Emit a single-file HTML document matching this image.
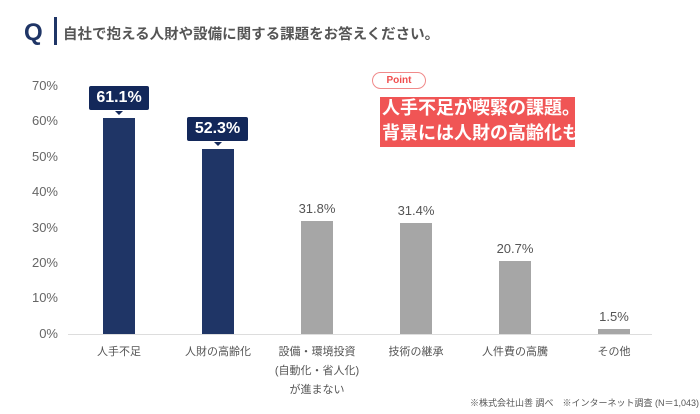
<!DOCTYPE html>
<html><head><meta charset="utf-8"><style>
body{margin:0;width:700px;height:414px;background:#fff;position:relative;overflow:hidden;font-family:"Liberation Sans","Noto Sans CJK JP",sans-serif}
.a{position:absolute}
.yl{position:absolute;left:20px;width:38px;text-align:right;font-size:13px;color:#666}
.bar{position:absolute;width:32px}
.xl{position:absolute;width:120px;text-align:center;font-size:11px;color:#555;line-height:19px}
.vl{position:absolute;width:60px;text-align:center;font-size:13px;color:#555}
.tag{position:absolute;background:#13285a;color:#fff;font-weight:bold;font-size:16px;text-align:center;height:24px;line-height:24px;border-radius:2px}
.tag:after{content:"";position:absolute;left:50%;bottom:-5px;margin-left:-4px;border:4px solid transparent;border-top:4px solid #13285a;border-bottom:0}
</style></head><body>
<div class="a" style="left:24px;top:19px;font-size:24px;font-weight:bold;color:#1f3566">Q</div>
<div class="a" style="left:54px;top:17px;width:3px;height:28px;background:#1f3566"></div>
<div class="a" style="left:63px;top:23px;font-size:14.5px;font-weight:bold;color:#555">自社で抱える人財や設備に関する課題をお答えください。</div>

<div class="yl" style="top:78px">70%</div>
<div class="yl" style="top:113px">60%</div>
<div class="yl" style="top:149px">50%</div>
<div class="yl" style="top:184px">40%</div>
<div class="yl" style="top:220px">30%</div>
<div class="yl" style="top:255px">20%</div>
<div class="yl" style="top:290px">10%</div>
<div class="yl" style="top:326px">0%</div>

<div class="a" style="left:68px;top:334px;width:584px;height:1px;background:#ddd"></div>

<div class="bar" style="left:103px;top:118px;height:216px;background:#1f3566"></div>
<div class="bar" style="left:202px;top:149px;height:185px;background:#1f3566"></div>
<div class="bar" style="left:301px;top:221px;height:113px;background:#a6a6a6"></div>
<div class="bar" style="left:400px;top:223px;height:111px;background:#a6a6a6"></div>
<div class="bar" style="left:499px;top:261px;height:73px;background:#a6a6a6"></div>
<div class="bar" style="left:598px;top:329px;height:5px;background:#a6a6a6"></div>

<div class="tag" style="left:89px;top:86px;width:60px">61.1%</div>
<div class="tag" style="left:187px;top:117px;width:61px">52.3%</div>
<div class="vl" style="left:287px;top:201px">31.8%</div>
<div class="vl" style="left:386px;top:203px">31.4%</div>
<div class="vl" style="left:485px;top:241px">20.7%</div>
<div class="vl" style="left:584px;top:309px">1.5%</div>

<div class="xl" style="left:59px;top:343px">人手不足</div>
<div class="xl" style="left:158px;top:343px">人財の高齢化</div>
<div class="xl" style="left:257px;top:343px">設備・環境投資<br>(自動化・省人化)<br>が進まない</div>
<div class="xl" style="left:356px;top:343px">技術の継承</div>
<div class="xl" style="left:455px;top:343px">人件費の高騰</div>
<div class="xl" style="left:554px;top:343px">その他</div>

<div class="a" style="left:372px;top:72px;width:52px;height:15px;border:1px solid #f08a8a;border-radius:9px;color:#f04e4e;font-size:10px;font-weight:bold;text-align:center;line-height:15px;background:#fff">Point</div>
<div class="a" style="left:380px;top:97px;width:195px;height:50px;background:#f05555"></div>
<div class="a" style="left:382px;top:96px;font-size:18px;font-weight:bold;color:#fff;line-height:25px;white-space:nowrap">人手不足が喫緊の課題。<br>背景には人財の高齢化も。</div>

<div class="a" style="left:470px;top:396px;font-size:9px;color:#555;white-space:nowrap">※株式会社山善 調べ　※インターネット調査 (N＝1,043)</div>
</body></html>
